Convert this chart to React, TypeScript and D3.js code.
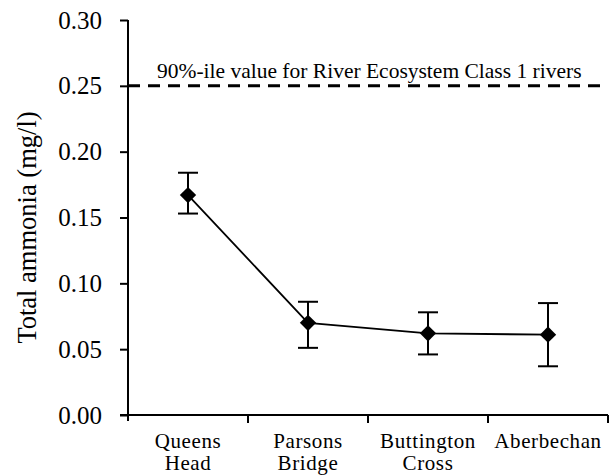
import React, { useRef, useEffect } from 'react';
import * as d3 from 'd3';

// sites along the river, upstream to downstream
const sites = ['Queens Head', 'Parsons Bridge', 'Buttington Cross', 'Aberbechan'];
const siteLines = [['Queens', 'Head'], ['Parsons', 'Bridge'], ['Buttington', 'Cross'], ['Aberbechan']];
const meanAmmonia = [0.167, 0.070, 0.062, 0.061];
const lowerAmmonia = [0.153, 0.051, 0.046, 0.037];
const upperAmmonia = [0.184, 0.086, 0.078, 0.085];
const yTicks = [0, 0.05, 0.1, 0.15, 0.2, 0.25, 0.3];
const standardValue = 0.25;
const standardLabel = '90%-ile value for River Ecosystem Class 1 rivers';

const FONT = 'Liberation Serif, Times New Roman, serif';

function AmmoniaChart() {
  const svgRef = useRef<SVGSVGElement>(null);

  useEffect(() => {
    const svg = d3.select(svgRef.current);
    svg.selectAll('*').remove();

    const left = 128, right = 608, top = 20, bottom = 415;

    const x = d3.scaleBand().domain(sites).range([left, right]);
    const y = d3.scaleLinear().domain([0, 0.3]).range([bottom, top]);
    const cx = (s: string) => (x(s) as number) + x.bandwidth() / 2;

    // y axis
    const yAxis = svg.append('g')
      .attr('transform', `translate(${left},0)`)
      .call(d3.axisLeft(y).tickValues(yTicks).tickFormat(d3.format('.2f')).tickSize(8).tickSizeOuter(0).tickPadding(18));
    yAxis.attr('font-family', FONT).attr('font-size', 25);
    yAxis.select('.domain').attr('stroke-width', 2).attr('d', `M0,${top}V${bottom + 6}`);
    yAxis.selectAll('.tick line').attr('stroke-width', 2);
    yAxis.selectAll('text').attr('fill', '#000');

    // x axis, ticks on the band edges
    const xAxis = svg.append('g').attr('transform', `translate(0,${bottom})`);
    xAxis.append('path').attr('d', `M${left - 8},0H${right}`).attr('stroke', '#000').attr('stroke-width', 2);
    const edges = sites.map(s => x(s) as number).concat([right]);
    xAxis.selectAll('line.edge')
      .data(edges.slice(1))
      .join('line')
      .attr('class', 'edge')
      .attr('x1', d => d).attr('x2', d => d)
      .attr('y1', 0).attr('y2', 8)
      .attr('stroke', '#000').attr('stroke-width', 2);

    const labels = xAxis.selectAll('text.site')
      .data(sites)
      .join('text')
      .attr('class', 'site')
      .attr('text-anchor', 'middle')
      .attr('font-family', FONT)
      .attr('font-size', 21)
      .attr('letter-spacing', 0.6);
    labels.each(function (d, i) {
      d3.select(this).selectAll('tspan')
        .data(siteLines[i])
        .join('tspan')
        .attr('x', cx(d))
        .attr('y', (_, j) => 33 + j * 22)
        .text(t => t);
    });

    // standard line
    svg.append('line')
      .attr('x1', left).attr('x2', right)
      .attr('y1', y(standardValue)).attr('y2', y(standardValue))
      .attr('stroke', '#000').attr('stroke-width', 3)
      .attr('stroke-dasharray', '12,8');
    svg.append('text')
      .attr('x', 157).attr('y', y(standardValue) - 8)
      .attr('font-family', FONT).attr('font-size', 21.5)
      .text(standardLabel);

    // y label
    svg.append('text')
      .attr('transform', `translate(36,${(top + bottom) / 2 + 10}) rotate(-90)`)
      .attr('text-anchor', 'middle')
      .attr('font-family', FONT).attr('font-size', 26.5)
      .text('Total ammonia (mg/l)');

    // mean line
    const pts = sites.map((s, i) => [cx(s), y(meanAmmonia[i])] as [number, number]);
    svg.append('path')
      .attr('d', d3.line()(pts))
      .attr('fill', 'none').attr('stroke', '#000').attr('stroke-width', 1.8);

    // error bars
    const err = svg.append('g').attr('stroke', '#000').attr('stroke-width', 2);
    sites.forEach((s, i) => {
      const c = cx(s);
      err.append('line').attr('x1', c).attr('x2', c).attr('y1', y(lowerAmmonia[i])).attr('y2', y(upperAmmonia[i]));
      err.append('line').attr('x1', c - 10).attr('x2', c + 10).attr('y1', y(lowerAmmonia[i])).attr('y2', y(lowerAmmonia[i]));
      err.append('line').attr('x1', c - 10).attr('x2', c + 10).attr('y1', y(upperAmmonia[i])).attr('y2', y(upperAmmonia[i]));
    });

    // diamond markers
    svg.selectAll('path.marker')
      .data(pts)
      .join('path')
      .attr('class', 'marker')
      .attr('d', d3.symbol(d3.symbolDiamond2, 170)())
      .attr('transform', d => `translate(${d[0]},${d[1]})`)
      .attr('fill', '#000');
  }, []);

  return (
    <svg ref={svgRef} width={612} height={476}
      style={{ position: 'absolute', left: 0, top: 0, background: '#fff' }} />
  );
}

export default function App() {
  return <AmmoniaChart />;
}
